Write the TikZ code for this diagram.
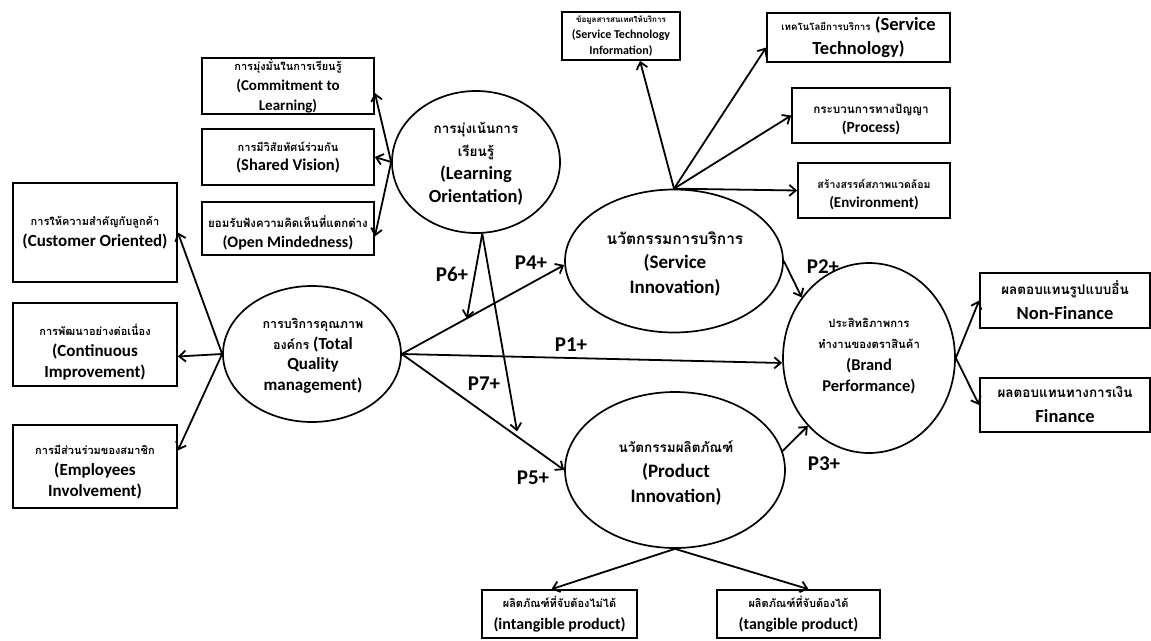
\documentclass[tikz,border=0pt]{standalone}
\usepackage{fontspec}
\setmainfont{Carlito}
\newfontfamily\thai[Script=Thai]{Loma}
\usetikzlibrary{arrows.meta,calc,shapes.geometric}
\newcommand\thtxt[2]{{\thai\bfseries\fontsize{#1}{#1}\selectfont #2}}
\newcommand\fsz[2]{\bfseries\fontsize{#1}{#2}\selectfont}
\begin{document}
\begin{tikzpicture}[x=1pt,y=-1pt,
  box/.style={draw, line width=1.7pt, inner sep=0pt, align=center},
  ell/.style={draw, ellipse, line width=1.7pt, inner sep=0pt},
  txt/.style={inner sep=0pt, align=center},
  arr/.style={line width=1.8pt, -{Straight Barb[length=6.5pt,width=11pt]}},
  plab/.style={inner sep=0pt, font=\fsz{21}{24}}]
\useasboundingbox (0,0) rectangle (1151,640);
% boxes
\node[box, minimum width=172pt, minimum height=56pt, font=\fsz{15}{20}] (CL) at (288,86) {\thtxt{11}{การมุ่งมั่นในการเรียนรู้}\\(Commitment to\\Learning)};
\node[box, minimum width=172pt, minimum height=56pt, font=\fsz{16.5}{19}] (SV) at (288,157) {\thtxt{11}{การมีวิสัยทัศน์ร่วมกัน}\\(Shared Vision)};
\node[box, minimum width=172pt, minimum height=53pt] (OM) at (288,228.5) {};
\node[txt, font=\fsz{16}{20}] (OMt) at (288,233) {\thtxt{11.5}{ยอมรับฟังความคิดเห็นที่แตกต่าง}\\(Open Mindedness)};
\node[box, minimum width=164pt, minimum height=99pt, font=\fsz{17}{21}] (CO) at (95,232.5) {\thtxt{11}{การให้ความสำคัญกับลูกค้า}\\(Customer Oriented)};
\node[box, minimum width=164pt, minimum height=83pt] (CI) at (95,344.5) {};
\node[txt, font=\fsz{17}{21}] (CIt) at (95,352) {\thtxt{11}{การพัฒนาอย่างต่อเนื่อง}\\(Continuous\\Improvement)};
\node[box, minimum width=164pt, minimum height=83pt] (EI) at (95,466.5) {};
\node[txt, font=\fsz{17}{21}] (EIt) at (95,472) {\thtxt{11}{การมีส่วนร่วมของสมาชิก}\\(Employees\\Involvement)};
\node[box, minimum width=118pt, minimum height=48pt, font=\fsz{12}{16}] (STI) at (621,36) {\thtxt{8}{ข้อมูลสารสนเทศให้บริการ}\\(Service Technology\\Information)};
\node[box, minimum width=183pt, minimum height=49pt, font=\fsz{18.5}{24}] (ST) at (858.5,37.5) {\thtxt{9.7}{เทคโนโลยีการบริการ} (Service\\Technology)};
\node[box, minimum width=158pt, minimum height=55pt] (PR) at (871,115.5) {};
\node[txt, font=\fsz{15.5}{19}] (PRt) at (871,119) {\thtxt{11.7}{กระบวนการทางปัญญา}\\(Process)};
\node[box, minimum width=152pt, minimum height=55pt] (EN) at (874,190.5) {};
\node[txt, font=\fsz{15}{19}] (ENt) at (874,195) {\thtxt{10.5}{สร้างสรรค์สภาพแวดล้อม}\\(Environment)};
\node[box, minimum width=170pt, minimum height=55pt, font=\fsz{18.5}{25}] (NF) at (1065,300.5) {\thtxt{13.5}{ผลตอบแทนรูปแบบอื่น}\\Non-Finance};
\node[box, minimum width=170pt, minimum height=54pt, font=\fsz{18.5}{25}] (FI) at (1065,405) {\thtxt{13.5}{ผลตอบแทนทางการเงิน}\\Finance};
\node[box, minimum width=155pt, minimum height=48pt, font=\fsz{16}{22}] (IP) at (559.5,614) {\thtxt{11}{ผลิตภัณฑ์ที่จับต้องไม่ได้}\\(intangible product)};
\node[box, minimum width=163pt, minimum height=48pt, font=\fsz{16}{22}] (TP) at (798.5,614) {\thtxt{11}{ผลิตภัณฑ์ที่จับต้องได้}\\(tangible product)};
% ellipses
\node[ell, minimum width=168pt, minimum height=142pt] (LO) at (476,162) {};
\node[txt, font=\fsz{18.5}{23}] (LOt) at (476,164) {\thtxt{13.5}{การมุ่งเน้นการ}\\\thtxt{13.5}{เรียนรู้}\\(Learning\\Orientation)};
\node[ell, minimum width=178pt, minimum height=136pt] (TQ) at (312,354) {};
\node[txt, font=\fsz{17}{20.5}] (TQt) at (313,356) {\thtxt{12.5}{การบริการคุณภาพ}\\\thtxt{12.5}{องค์กร} (Total\\Quality\\management)};
\node[ell, minimum width=218pt, minimum height=143pt] (SI) at (674,261) {};
\node[txt, font=\fsz{19}{24.5}] (SIt) at (675,264) {\thtxt{15.5}{นวัตกรรมการบริการ}\\(Service\\Innovation)};
\node[ell, minimum width=220pt, minimum height=156pt] (PI) at (675,470) {};
\node[txt, font=\fsz{19}{25}] (PIt) at (676,473) {\thtxt{13.5}{นวัตกรรมผลิตภัณฑ์}\\(Product\\Innovation)};
\node[ell, minimum width=172pt, minimum height=190pt] (BP) at (869,358) {};
\node[txt, font=\fsz{16.5}{21.5}] (BPt) at (869,356) {\thtxt{11.3}{ประสิทธิภาพการ}\\\thtxt{11.3}{ทำงานของตราสินค้า}\\(Brand\\Performance)};
% connectors
\draw[arr] (LO.west) -- ([yshift=-7pt]CL.east);
\draw[arr] (LO.west) -- (SV.east);
\draw[arr] (LO.west) -- ([yshift=-8pt]OM.east);
\draw[arr] (TQ.west) -- (CO.east);
\draw[arr] (TQ.west) -- ([yshift=-12pt]CI.east);
\draw[arr] (TQ.west) -- ([yshift=16pt]EI.east);
\draw[arr] (SI.north) -- ([xshift=19pt]STI.south);
\draw[arr] (SI.north) -- ([yshift=-10pt]ST.west);
\draw[arr] (SI.north) -- (PR.west);
\draw[arr] (SI.north) -- (EN.west);
\draw[arr] (TQ.east) -- ([yshift=-4pt]SI.west);
\draw[arr] (TQ.east) -- ([yshift=-5pt]BP.west);
\draw[arr] (TQ.east) -- (PI.west);
\draw[arr] (LO.-85) -- ($(TQ.east)!0.4!([yshift=-4pt]SI.west)$);
\draw[arr] (LO.-85) -- ([yshift=5pt]$(TQ.east)!0.71!(PI.west)$);
\draw[arr] (SI.east) -- (BP.138);
\draw[arr] (PI.10) -- (BP.228);
\draw[arr] (BP.east) -- (NF.west);
\draw[arr] (BP.east) -- (FI.west);
\draw[arr] (PI.south) -- ([xshift=-8pt]IP.north);
\draw[arr] (PI.south) -- ([xshift=10pt]TP.north);
% labels
\node[plab] (p6) at (452,274) {P6+};
\node[plab] (p4) at (531,263) {P4+};
\node[plab] (p1) at (571,345) {P1+};
\node[plab] (p7) at (484,384) {P7+};
\node[plab] (p5) at (533,478) {P5+};
\node[plab] (p2) at (823,267) {P2+};
\node[plab] (p3) at (824,464) {P3+};
\end{tikzpicture}
\end{document}
